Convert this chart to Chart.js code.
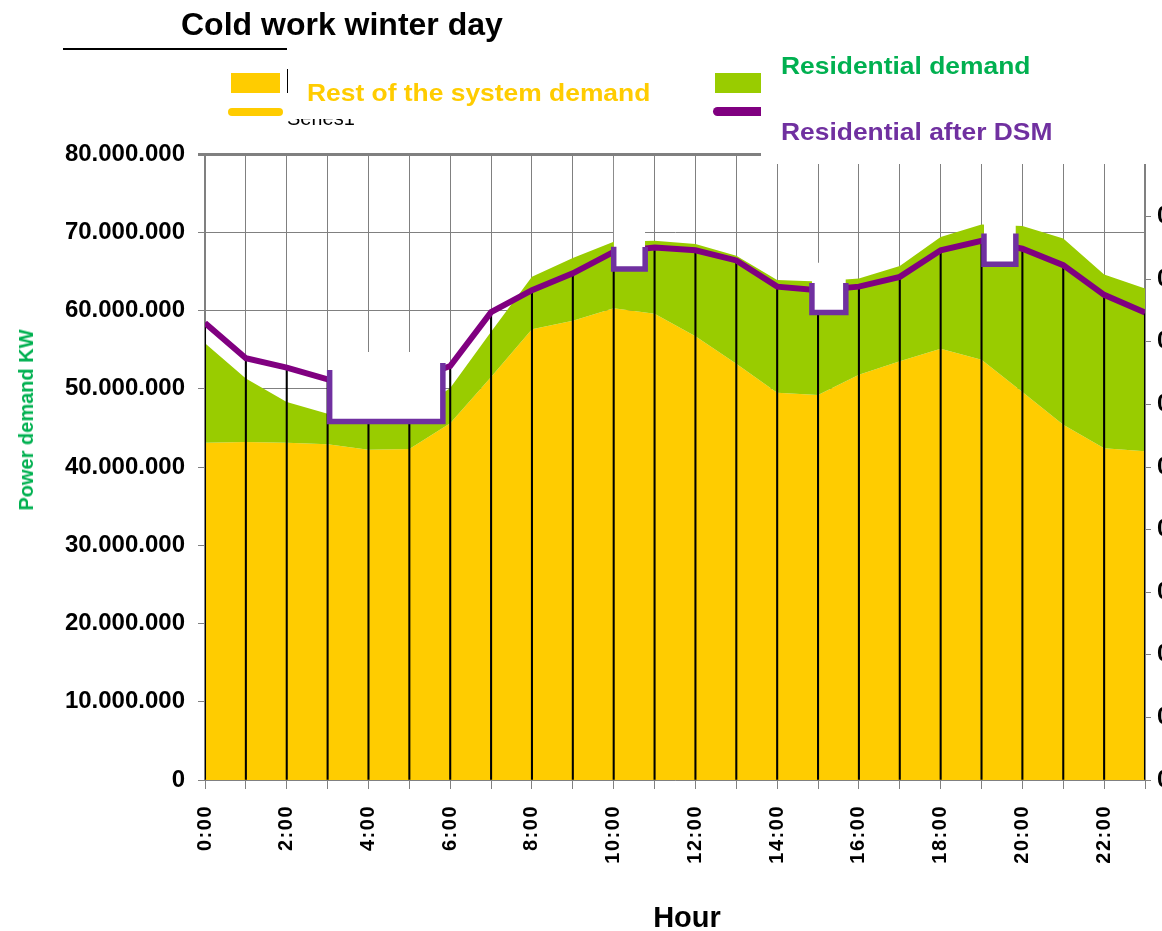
<!DOCTYPE html>
<html>
<head>
<meta charset="utf-8">
<script src="https://cdn.jsdelivr.net/npm/chart.js@4/dist/chart.umd.min.js"></script>
<style>
  html, body { margin: 0; padding: 0; background: #fff; overflow: hidden; }
  #wrap { position: relative; width: 1162px; height: 931px; }
  canvas { position: absolute; left: 0; top: 0; }
  .ov { position: absolute; white-space: nowrap; font-family: 'Liberation Sans', Arial, sans-serif; font-weight: bold; line-height: 1; }
  .blk { position: absolute; }
</style>
</head>
<body>
<div id="wrap">
  <canvas id="c" width="1162" height="931"></canvas>

  <div class="ov" style="left:181px; top:7.9px; font-size:32px; color:#000;">Cold work winter day</div>
  <div class="blk" style="left:63px; top:48px; width:224px; height:1.5px; background:#000;"></div>
  <div class="blk" style="left:287px; top:69px; width:1.4px; height:24px; background:#000;"></div>
  <div class="blk" style="left:287px; top:119px; width:70px; height:9px; overflow:hidden;">
    <div class="ov" style="left:0; top:-11px; font-size:20px; font-weight:normal; color:#000;">Series1</div>
  </div>

  <div class="blk" style="left:231px; top:73px; width:49px; height:20px; background:#FFCC00;"></div>
  <div class="blk" style="left:228px; top:108px; width:55px; height:8px; border-radius:4px; background:#FFCC00;"></div>
  <div class="ov" style="left:307px; top:81.4px; font-size:24px; color:#FFCC00; transform:scaleX(1.1); transform-origin:0 0;">Rest of the system demand</div>

  <div class="blk" style="left:715px; top:73px; width:46px; height:20px; background:#99CC00;"></div>
  <div class="blk" style="left:713px; top:107px; width:48px; height:9px; border-radius:5px 0 0 5px; background:#800080;"></div>
  <div class="ov" style="left:781px; top:53.7px; font-size:24px; color:#00B050; transform:scaleX(1.1); transform-origin:0 0;">Residential demand</div>
  <div class="ov" style="left:781px; top:120.4px; font-size:24px; color:#7030A0; transform:scaleX(1.1); transform-origin:0 0;">Residential after DSM</div>

  <div class="blk" style="left:761px; top:147px; width:401px; height:17px; background:#fff;"></div>

  <div class="ov" style="left:26px; top:420px; font-size:20px; color:#00B050; transform:translate(-50%,-50%) rotate(-90deg);">Power demand KW</div>
  <div class="ov" style="left:687px; top:917px; font-size:29px; color:#000; transform:translate(-50%,-50%);">Hour</div>
</div>

<script>
// ---- data ----
const hourLabels = ['0:00','1:00','2:00','3:00','4:00','5:00','6:00','7:00','8:00','9:00','10:00','11:00',
                    '12:00','13:00','14:00','15:00','16:00','17:00','18:00','19:00','20:00','21:00','22:00','23:00'];
const hours = [0,1,2,3,4,5,6,7,8,9,10,11,12,13,14,15,16,17,18,19,20,21,22,23];

const restDemand = [43100000, 43200000, 43100000, 42900000, 42200000, 42300000, 45600000, 51500000,
                    57600000, 58700000, 60300000, 59600000, 56700000, 53200000, 49500000, 49200000,
                    51800000, 53500000, 55100000, 53700000, 49600000, 45400000, 42400000, 42000000];

const residentialDemand = [12700000, 8100000, 5200000, 3900000, 4000000, 4200000, 4500000, 5800000,
                           6700000, 8000000, 8500000, 9300000, 11800000, 13800000, 14400000, 14500000,
                           12300000, 12200000, 14300000, 17300000, 21200000, 23800000, 22200000, 20800000];

const afterDSM = [58400000, 53900000, 52700000, 51200000, 50500000, 51000000, 52900000, 59800000,
                  62600000, 64750000, 67500000, 68050000, 67700000, 66400000, 63050000, 62600000,
                  63050000, 64300000, 67700000, 68900000, 67900000, 65800000, 62000000, 59750000];

// DSM shifting windows (hours) and levels
const dsmStart   = [3.05, 10.0, 14.85, 19.06];
const dsmEnd     = [5.82, 10.77, 15.68, 19.84];
const dsmEntry   = [52400000, 68150000, 63500000, 69850000];
const dsmLevel   = [45800000, 65300000, 59750000, 65900000];
const dsmExit    = [53300000, 68100000, 63500000, 69850000];
const dsmMaskTop = [54700000, 79500000, 66100000, 79500000];

const yMax = 80000000, yStep = 10000000;

// ---- build datasets ----
const totalDemand = restDemand.map((v, i) => v + residentialDemand[i]);
const pts = arr => hours.map((h, i) => ({x: h, y: arr[i]}));

const datasets = [
  { label: 'Rest of the system demand', data: pts(restDemand), fill: 'origin',
    backgroundColor: '#FFCC00', borderWidth: 0, pointRadius: 0, tension: 0, order: 5 },
  { label: 'Residential demand', data: pts(totalDemand), fill: '-1',
    backgroundColor: '#99CC00', borderWidth: 0, pointRadius: 0, tension: 0, order: 4 },
  { type: 'bar', label: 'drop', data: pts(afterDSM), backgroundColor: '#000',
    barThickness: 1.4, borderWidth: 0, order: 3 },
  { label: 'Residential after DSM', data: pts(afterDSM), fill: false,
    borderColor: '#800080', borderWidth: 6, pointRadius: 0, tension: 0, order: 2 }
];
dsmStart.forEach((s, k) => {
  datasets.push({
    label: 'DSM' + k,
    data: [{x: s, y: dsmEntry[k]}, {x: s, y: dsmLevel[k]}, {x: dsmEnd[k], y: dsmLevel[k]}, {x: dsmEnd[k], y: dsmExit[k]}],
    fill: {value: dsmMaskTop[k]}, backgroundColor: '#fff',
    borderColor: '#7030A0', borderWidth: 5.5, borderJoinStyle: 'miter', borderCapStyle: 'butt',
    pointRadius: 0, tension: 0, order: 1
  });
});

const FONT = "'Liberation Sans', Arial, sans-serif";
Chart.defaults.font.family = FONT;

const spacingPlugin = {
  id: 'xLetterSpacing',
  afterUpdate(chart) {
    const sc = chart.scales.x;
    if (sc && !sc._lsPatched) {
      const orig = sc.drawLabels.bind(sc);
      sc.drawLabels = function (area) {
        const ctx = this.ctx; ctx.save(); ctx.letterSpacing = '1.5px'; orig(area); ctx.restore();
      };
      sc._lsPatched = true;
    }
  }
};

new Chart(document.getElementById('c'), {
  type: 'line',
  data: { datasets },
  plugins: [spacingPlugin],
  options: {
    responsive: false, animation: false, events: [],
    layout: { padding: { top: 154, left: 0, right: 0, bottom: 0 } },
    plugins: { legend: { display: false }, tooltip: { enabled: false }, title: { display: false } },
    scales: {
      x: {
        type: 'linear', min: 0, max: 23, offset: false,
        afterFit: s => { s.height = 151; s.paddingRight = 0; s.paddingLeft = 0; },
        grid: { color: '#808080', lineWidth: 1, tickLength: 9, offset: false, tickColor: '#808080' },
        border: { color: '#808080', width: 1.5 },
        ticks: {
          stepSize: 1, autoSkip: false, maxRotation: 90, minRotation: 90, padding: 16,
          color: '#000', font: { size: 20, weight: 'bold' },
          callback: v => (v % 2 === 0 ? hourLabels[v] : '')
        }
      },
      y: {
        min: 0, max: yMax,
        afterFit: s => { s.width = 205; },
        grid: { color: '#808080', lineWidth: c => (c.tick && c.tick.value === yMax ? 3 : 1), tickLength: 7, tickColor: '#808080' },
        border: { color: '#808080', width: 2 },
        ticks: {
          stepSize: yStep, padding: 13, color: '#000', font: { size: 24, weight: 'bold' },
          callback: v => v.toLocaleString('de-DE')
        }
      },
      y2: {
        position: 'right', min: 0, max: 1,
        afterFit: s => { s.width = 17; },
        grid: { drawOnChartArea: false, tickLength: 6, color: '#808080' },
        border: { color: '#808080', width: 2 },
        ticks: {
          stepSize: 0.1, padding: 6, color: '#000', font: { size: 24, weight: 'bold' },
          callback: v => (v >= 0.999 ? null : v.toFixed(1).replace('.', ','))
        }
      }
    }
  }
});
</script>
</body>
</html>
